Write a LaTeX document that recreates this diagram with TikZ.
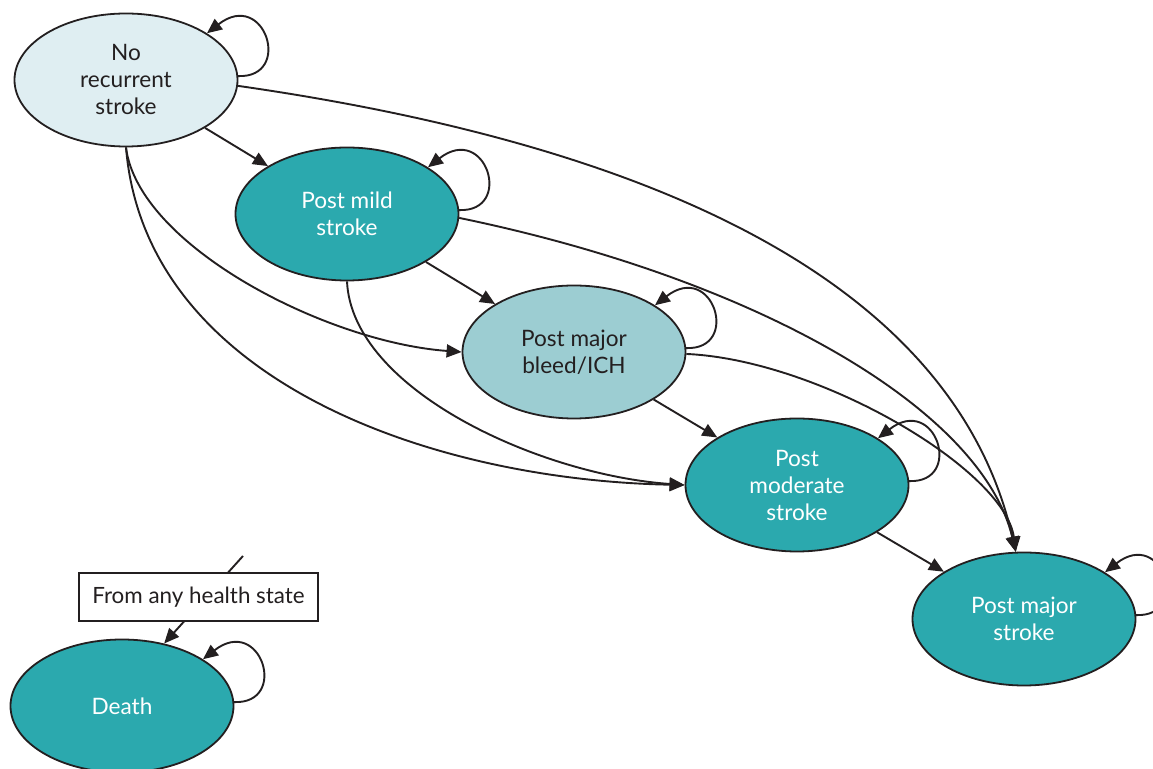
\documentclass[tikz,border=0pt]{standalone}
\usepackage{fontspec}
\setmainfont{Lato}
\usetikzlibrary{shapes.geometric,arrows.meta,calc}

\definecolor{teal}{HTML}{2BA9AE}
\definecolor{palecyan}{HTML}{DFEEF2}
\definecolor{softcyan}{HTML}{9CCDD2}
\definecolor{ink}{HTML}{231F20}

\tikzset{
  state/.style={ellipse, draw=ink, line width=0.9pt, minimum width=111.5pt,
    minimum height=66.5pt, inner sep=0pt, align=center,
    font=\fontsize{11.3}{13.5}\selectfont},
  darkstate/.style={state, fill=teal, text=white},
  lightstate/.style={state, fill=palecyan, text=ink},
  bleedstate/.style={state, fill=softcyan, text=ink},
  arr/.style={draw=ink, line width=0.95pt, -{Triangle[length=7.5pt,width=6.5pt]}},
  notebox/.style={draw=ink, line width=0.9pt, fill=white, text=ink,
    minimum width=119.5pt, minimum height=24pt, inner sep=0pt,
    font=\fontsize{11.2}{13}\selectfont}
}

% draw a self loop leaving the east side and returning at the upper right
\newcommand{\selfloop}[1]{%
  \draw[arr] (#1.2) .. controls ($(#1.2)+(55,2)$) and ($(#1.30)+(58,-45)$) .. (#1.30);}

\begin{document}
\begin{tikzpicture}[x=0.5pt,y=-0.5pt]
\clip (0,0) rectangle (1153,769);

% health states
\node[lightstate] (N)  at (126,80)  {No\\recurrent\\stroke};
\node[darkstate]  (M)  at (347,214) {Post mild\\stroke};
\node[bleedstate] (B)  at (574,352) {Post major\\bleed/ICH};
\node[darkstate]  (Mo) at (797,485) {Post\\moderate\\stroke};
\node[darkstate]  (Ma) at (1024,619) {Post major\\stroke};
\node[darkstate]  (D)  at (122,706) {Death};

% self transitions
\selfloop{N}
\selfloop{M}
\selfloop{B}
\selfloop{Mo}
\selfloop{Ma}
\selfloop{D}

% transitions to the next state
\draw[arr] (N) -- (M);
\draw[arr] (M) -- (B);
\draw[arr] (B) -- (Mo);
\draw[arr] (Mo) -- (Ma);

% transitions to post major stroke
\draw[arr] (N.-3) .. controls (720,155) and (962,315) .. (Ma.97);
\draw[arr] (M.-2) .. controls (760,280) and (982,410) .. (Ma.97);
\draw[arr] (B.-1) .. controls (820,360) and (1005,470) .. (Ma.97);

% transitions skipping states below
\draw[arr] (N.south) .. controls (138,245) and (325,342) .. (B.west);
\draw[arr] (N.south) .. controls (145,380) and (430,480) .. (Mo.west);
\draw[arr] (M.south) .. controls (352,390) and (540,475) .. (Mo.west);

% death from any state
\coordinate (anyst) at (243,556);
\draw[arr] (anyst) -- (D.56);
\node[notebox] (note) at (198.5,597) {From any health state};
\end{tikzpicture}
\end{document}
